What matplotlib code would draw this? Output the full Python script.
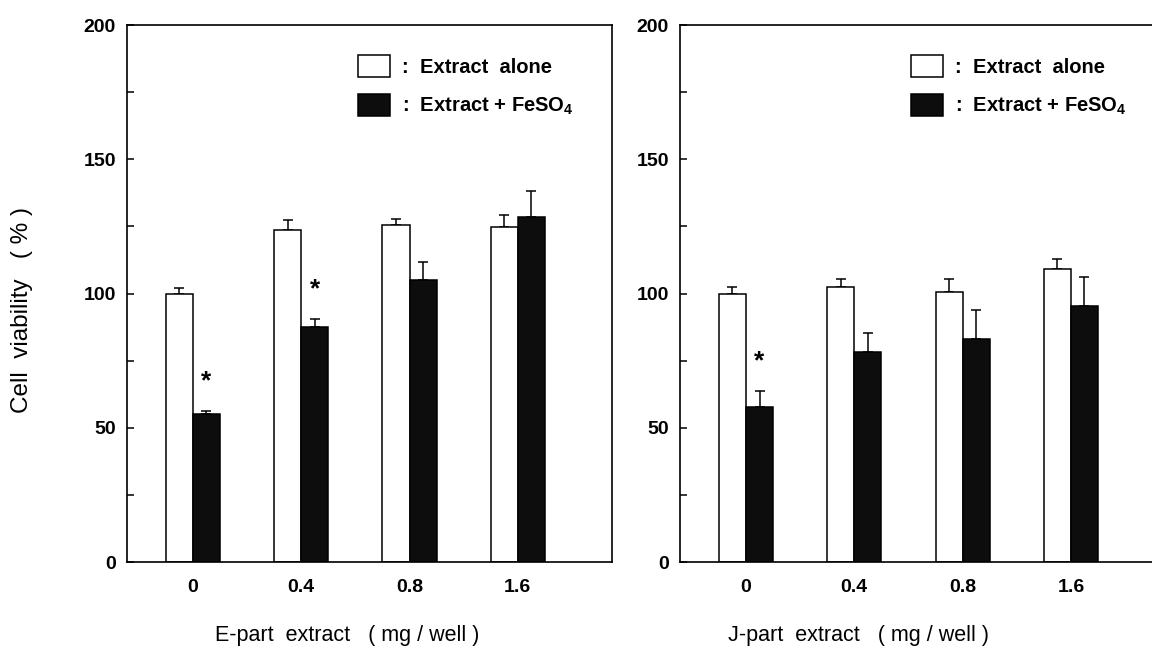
import matplotlib
matplotlib.use("Agg")
import matplotlib.pyplot as plt
import numpy as np
from matplotlib.ticker import MultipleLocator

plt.rcParams['font.family'] = ['Liberation Sans', 'DejaVu Sans']
plt.rcParams['mathtext.default'] = 'regular'

doses = ["0", "0.4", "0.8", "1.6"]

e_alone = [100.0, 123.6, 125.7, 124.7]
e_alone_err = [1.9, 3.8, 2.2, 4.4]
e_fe = [55.0, 87.4, 105.0, 128.6]
e_fe_err = [1.4, 3.0, 6.9, 9.4]
e_sig = [True, True, False, False]

j_alone = [100.0, 102.6, 100.7, 109.3]
j_alone_err = [2.6, 2.8, 4.7, 3.6]
j_fe = [57.9, 78.1, 83.1, 95.4]
j_fe_err = [5.7, 7.2, 10.8, 10.6]
j_sig = [True, False, False, False]

panels = [
    ("E-part  extract   ( mg / well )", e_alone, e_alone_err, e_fe, e_fe_err, e_sig, 0.1102, 0.454),
    ("J-part  extract   ( mg / well )", j_alone, j_alone_err, j_fe, j_fe_err, j_sig, 0.5903, 0.369),
]

fig = plt.figure(figsize=(11.52, 6.48), dpi=100)
w = 0.25
x = np.arange(len(doses))
for i, (xlabel, a, ae, f, fe, sig, left, xlc) in enumerate(panels):
    ax = fig.add_axes([left, 0.1327, 0.4210, 0.8287])
    ax.bar(x - w / 2, a, w, color='white', edgecolor='black', linewidth=1.1, zorder=2)
    ax.bar(x + w / 2, f, w, color='#0d0d0d', edgecolor='black', linewidth=1.1, zorder=2)
    ax.errorbar(x - w / 2, a, yerr=[np.zeros(len(a)), ae], fmt='none', ecolor='black',
                elinewidth=1.1, capsize=3.8, capthick=1.1, zorder=1)
    ax.errorbar(x + w / 2, f, yerr=[np.zeros(len(f)), fe], fmt='none', ecolor='black',
                elinewidth=1.1, capsize=3.8, capthick=1.1, zorder=1)
    for xi, v, e, s in zip(x, f, fe, sig):
        if s:
            ax.text(xi + w / 2, v + e + 11, "*", ha='center', va='center',
                    fontsize=19, fontweight='bold')
    ax.set_xlim(-0.609, 3.869)
    ax.set_ylim(0, 200)
    ax.set_xticks(x)
    ax.set_xticklabels(doses)
    ax.yaxis.set_major_locator(MultipleLocator(50))
    ax.yaxis.set_minor_locator(MultipleLocator(25))
    ax.tick_params(axis='y', which='both', direction='in', length=5, width=1.1,
                   labelsize=14, pad=8)
    ax.tick_params(axis='x', length=0, labelsize=14, pad=12)
    for lab in ax.get_xticklabels() + ax.get_yticklabels():
        lab.set_fontweight('bold')
    for sp in ax.spines.values():
        sp.set_linewidth(1.2)
    ax.set_xlabel(xlabel, fontsize=15.5)
    ax.xaxis.set_label_coords(xlc, -0.117)
    if i == 0:
        ax.set_ylabel("Cell  viability   ( % )", fontsize=17.5)
        ax.yaxis.set_label_coords(-0.194, 0.47)
    h1 = plt.Rectangle((0, 0), 1, 1, facecolor='white', edgecolor='black', linewidth=1.1)
    h2 = plt.Rectangle((0, 0), 1, 1, facecolor='#0d0d0d', edgecolor='black', linewidth=1.1)
    leg = ax.legend([h1, h2], [":  Extract  alone", ":  Extract + FeSO$_4$"],
                    loc='upper left', bbox_to_anchor=(0.476, 0.944), frameon=False,
                    borderaxespad=0, borderpad=0, handlelength=1.6, handleheight=1.3,
                    handletextpad=0.6, labelspacing=0.85,
                    prop={'size': 14.5, 'weight': 'bold'})

fig.savefig("out.png", dpi=100)
